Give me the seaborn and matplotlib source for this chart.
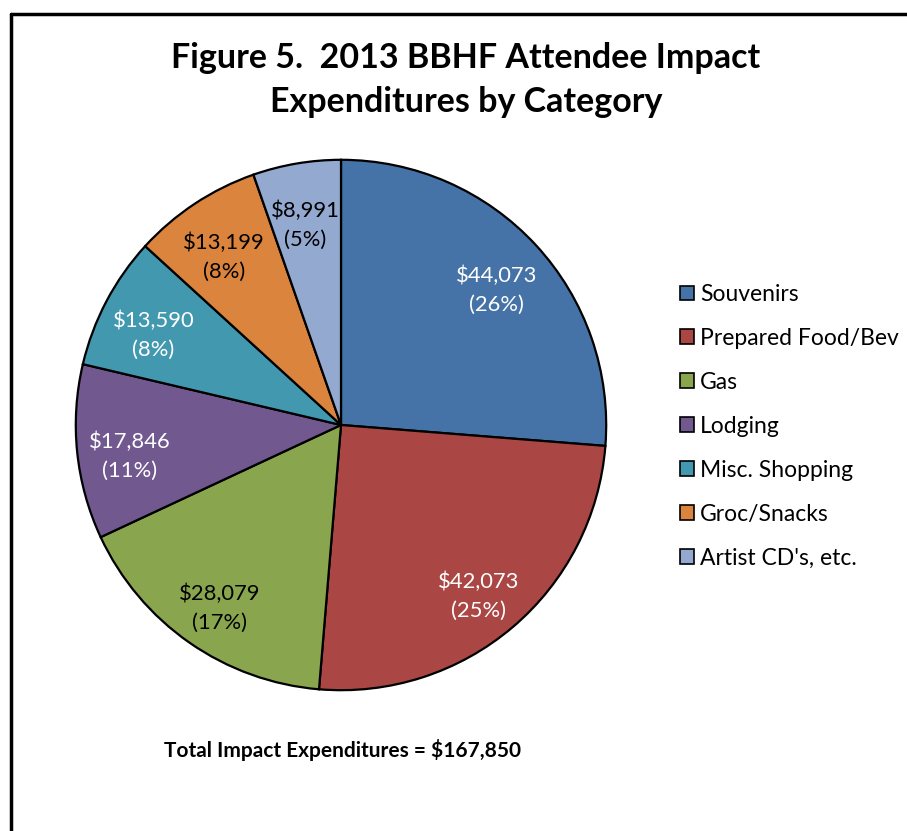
import matplotlib
matplotlib.use("Agg")
import matplotlib.pyplot as plt
from matplotlib.lines import Line2D
import seaborn as sns

categories = ["Souvenirs", "Prepared Food/Bev", "Gas", "Lodging",
              "Misc. Shopping", "Groc/Snacks", "Artist CD's, etc."]
expenditures = [44073, 42073, 28079, 17846, 13590, 13199, 8991]
total_label = "Total Impact Expenditures = $167,850"
colors = ["#4572A7", "#AA4643", "#89A54E", "#71588F", "#4198AF", "#DB843D", "#93A9CF"]
text_colors = ["white", "white", "black", "white", "white", "black", "black"]

sns.set_theme(style="white", palette=colors)
plt.rcParams['font.family'] = ['Lato', 'DejaVu Sans']
plt.rcParams['text.color'] = 'black'

fig = plt.figure(figsize=(9.07, 8.31), dpi=100)
W, H = 907, 831
cx, cy, r = 341, 425, 266
ax = fig.add_axes([(cx - r) / W, (H - cy - r) / H, 2 * r / W, 2 * r / H])

total = sum(expenditures)
vals = iter(expenditures)


def fmt(pct):
    v = next(vals)
    return f"${v:,}\n({round(v / total * 100):.0f}%)"


wedges, _, autotexts = ax.pie(
    expenditures, colors=colors, startangle=90, counterclock=False,
    autopct=fmt, pctdistance=0.80,
    wedgeprops=dict(edgecolor="black", linewidth=1.6),
    textprops=dict(fontsize=15.8, linespacing=1.55))
for t, c in zip(autotexts, text_colors):
    t.set_color(c)
    x, y = t.get_position()
    t.set_position((x, y - 0.035))  # Excel sets its labels a little lower
ax.set_xlim(-1.003, 1.003)
ax.set_ylim(-1.003, 1.003)
ax.set_aspect("equal")

fig.text(466 / W, 1 - 80 / H, "Figure 5.  2013 BBHF Attendee Impact\nExpenditures by Category",
         ha="center", va="center", fontsize=24.5, fontweight="bold", linespacing=1.5,
         color="black")
fig.text(342 / W, 1 - 750 / H, total_label, ha="center", va="center",
         fontsize=15, fontweight="bold", color="black")

leg = ax.legend(wedges, categories, loc="upper left",
                bbox_to_anchor=(680 / W, 1 - 284 / H), bbox_transform=fig.transFigure,
                frameon=False, fontsize=16.5, handlelength=0.62, handleheight=0.62,
                handletextpad=0.25, labelspacing=1.0, borderaxespad=0, borderpad=0)
for h in leg.legend_handles:
    h.set_edgecolor("black")
    h.set_linewidth(1.2)
for t in leg.get_texts():
    t.set_color("black")

# chart border (only left and top edges are visible in the crop)
fig.add_artist(Line2D([11 / W, 11 / W], [0, 1 - 14 / H], color="black", lw=2.5,
                      transform=fig.transFigure))
fig.add_artist(Line2D([11 / W, 1], [1 - 14 / H, 1 - 14 / H], color="black", lw=2.5,
                      transform=fig.transFigure))

fig.savefig("out.png", dpi=100)
